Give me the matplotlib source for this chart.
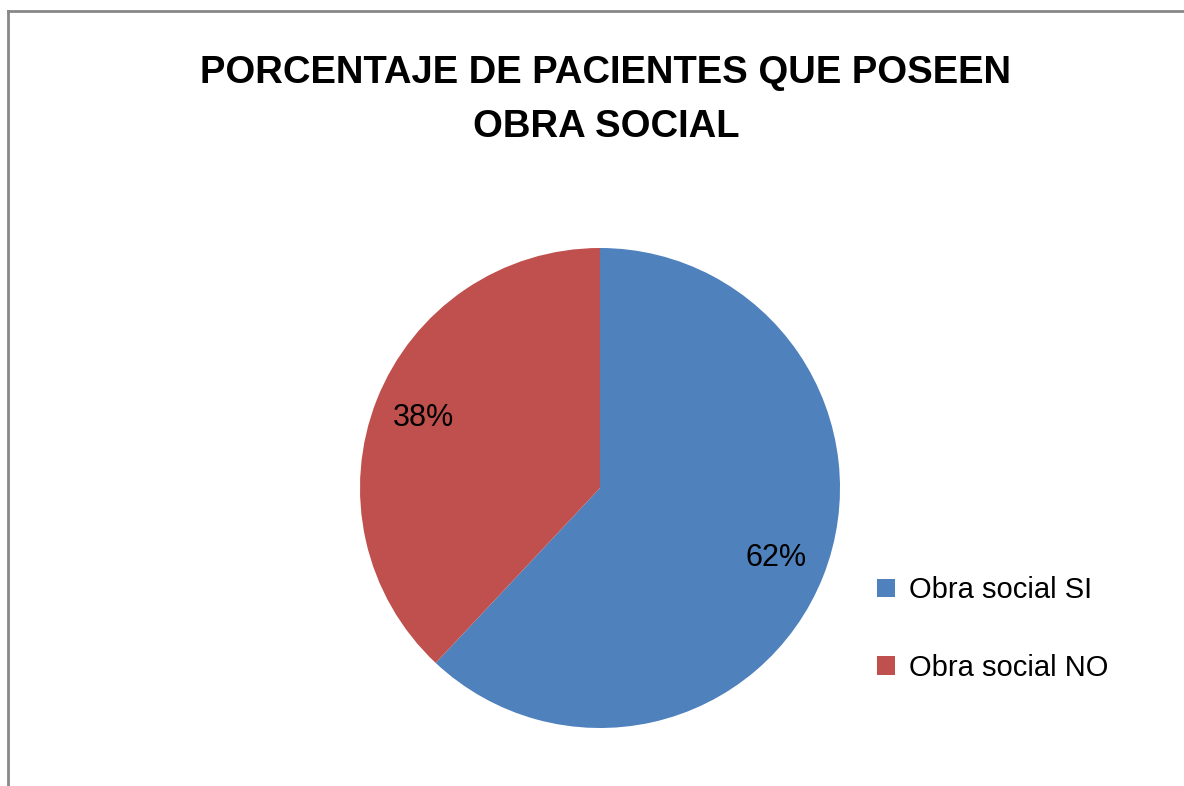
import matplotlib.pyplot as plt
from matplotlib.lines import Line2D
from matplotlib.patches import Patch

# data
labels = ['Obra social SI', 'Obra social NO']
values = [62, 38]
colors = ['#4F81BD', '#C0504D']
title = 'PORCENTAJE DE PACIENTES QUE POSEEN\nOBRA SOCIAL'

W, H = 1184, 786
fig = plt.figure(figsize=(W / 100, H / 100), dpi=100)
plt.rcParams['font.family'] = ['Liberation Sans', 'DejaVu Sans']

# pie centre (600, 488) px, radius 240 px
cx, cy, r = 600, 488, 240
ax = fig.add_axes([(cx - r) / W, (H - cy - r) / H, 2 * r / W, 2 * r / H])
wedges, texts, autotexts = ax.pie(values, colors=colors, startangle=90, counterclock=False,
                                  autopct='%1.0f%%', pctdistance=0.79,
                                  textprops={'fontsize': 22, 'color': 'black'})
ax.set_xlim(-1, 1)
ax.set_ylim(-1, 1)

fig.text(606 / W, 1 - 100 / H, title, ha='center', va='center', fontsize=27.5,
         fontweight='bold', linespacing=1.65)

handles = [Patch(facecolor=c, edgecolor='none') for c in colors]
fig.legend(handles, labels, loc='center left', bbox_to_anchor=(851 / W, 1 - 629 / H),
           frameon=False, fontsize=21, handlelength=0.6, handleheight=0.6,
           handletextpad=0.5, labelspacing=1.7)

# chart border (left and top visible)
fig.add_artist(Line2D([7.5 / W, 7.5 / W], [0, 1 - 10.5 / H], color='#888888', lw=2))
fig.add_artist(Line2D([7.5 / W, 1], [1 - 10.5 / H, 1 - 10.5 / H], color='#888888', lw=2))

fig.savefig('out.png', dpi=100)
